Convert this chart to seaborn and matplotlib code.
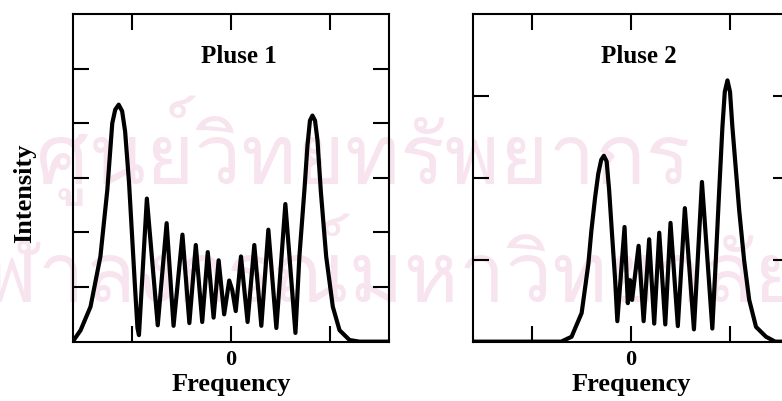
import matplotlib
matplotlib.use("Agg")
import matplotlib.pyplot as plt
import seaborn as sns
from matplotlib import font_manager

# pulse 1 spectrum
freq1 = [-1.60, -1.52, -1.42, -1.32, -1.25, -1.20, -1.17, -1.135, -1.10, -1.07, -1.03,
         -1.00, -0.97, -0.945, -0.93,
         -0.85, -0.74, -0.65, -0.58, -0.49, -0.42, -0.355, -0.29, -0.234, -0.175,
         -0.124, -0.068, -0.017, 0.013, 0.049, 0.102, 0.169, 0.237, 0.308, 0.379,
         0.46, 0.551, 0.653, 0.693, 0.744, 0.775, 0.80, 0.825, 0.851, 0.876, 0.91,
         0.964, 1.031, 1.099, 1.20, 1.30, 1.60]
inten1 = [0.0, 0.21, 0.64, 1.56, 2.78, 4.00, 4.25, 4.34, 4.22, 3.85, 2.90,
          1.95, 1.00, 0.25, 0.12,
          2.62, 0.30, 2.17, 0.29, 1.96, 0.34, 1.77, 0.36, 1.64, 0.44,
          1.49, 0.50, 1.12, 0.95, 0.56, 1.56, 0.36, 1.77, 0.29, 2.05,
          0.25, 2.52, 0.16, 1.56, 2.78, 3.60, 4.05, 4.14, 4.05, 3.69, 2.75,
          1.56, 0.64, 0.21, 0.03, 0.0, 0.0]

# pulse 2 spectrum
freq2 = [-1.62, -0.705, -0.60, -0.498, -0.43, -0.40, -0.362, -0.33, -0.30, -0.273,
         -0.245, -0.22, -0.19, -0.159,
         -0.137, -0.064, -0.031, -0.008, 0.012, 0.078, 0.129, 0.185, 0.236, 0.287,
         0.348, 0.401, 0.475, 0.546, 0.638, 0.719, 0.824, 0.859, 0.892, 0.926,
         0.95, 0.977, 1.003, 1.027, 1.096, 1.146, 1.197, 1.266, 1.367, 1.46, 1.62]
inten2 = [0.0, 0.0, 0.06, 0.35, 0.95, 1.35, 1.76, 2.05, 2.22, 2.27,
          2.20, 1.85, 1.30, 0.75,
          0.25, 1.40, 0.47, 0.75, 0.51, 1.17, 0.25, 1.25, 0.22, 1.33,
          0.21, 1.45, 0.19, 1.63, 0.15, 1.95, 0.16, 0.99, 1.81, 2.62,
          3.05, 3.19, 3.05, 2.62, 1.60, 0.99, 0.51, 0.18, 0.06, 0.0, 0.0]

titles = ["Pluse 1", "Pluse 2"]
xticks = [-1, 0, 1]
xticklabels = ["", "0", ""]
yticks1 = [1, 2, 3, 4, 5]
yticks2 = [1, 2, 3]
watermark = ["ศูนย์วิทยทรัพยากร", "จุฬาลงกรณ์มหาวิทยาลัย"]

sns.set_theme(style="ticks")
plt.rcParams["font.family"] = ["Liberation Serif", "DejaVu Serif"]
plt.rcParams["font.weight"] = "bold"
plt.rcParams["text.color"] = "black"
plt.rcParams["axes.labelcolor"] = "black"
plt.rcParams["xtick.color"] = "black"
plt.rcParams["ytick.color"] = "black"

# look for a font that can draw Thai for the watermark
thai_font = None
try:
    from fontTools.ttLib import TTFont
    for f in font_manager.fontManager.ttflist:
        try:
            cmap = TTFont(f.fname, fontNumber=0, lazy=True).getBestCmap()
        except Exception:
            continue
        if cmap and 0x0E28 in cmap and 0x0E2C in cmap:
            thai_font = f.name
            break
except Exception:
    thai_font = None

fig = plt.figure(figsize=(7.82, 4.01), dpi=100)
ax1 = fig.add_axes([0.093, 0.148, 0.4045, 0.817])
ax2 = fig.add_axes([0.6045, 0.148, 0.4045, 0.817])

if thai_font:
    fig.text(0.465, 0.625, watermark[0], family=thai_font, fontsize=60, color="#f7e4ee",
             ha="center", va="center", zorder=-1, fontweight="normal")
    fig.text(0.47, 0.33, watermark[1], family=thai_font, fontsize=60, color="#f7e4ee",
             ha="center", va="center", zorder=-1, fontweight="normal")

panels = [(ax1, freq1, inten1, yticks1, 6, titles[0]),
          (ax2, freq2, inten2, yticks2, 4, titles[1])]
for ax, fx, iy, yt, ytop, title in panels:
    ax.patch.set_alpha(0)
    sns.lineplot(x=fx, y=iy, ax=ax, color="black", lw=3.0, sort=False, estimator=None)
    ax.set_xlim(-1.6, 1.6)
    ax.set_ylim(0, ytop)
    ax.set_xticks(xticks)
    ax.set_xticklabels(xticklabels)
    ax.set_yticks(yt)
    ax.set_yticklabels([])
    ax.tick_params(direction="in", length=11.5, width=1.5, top=True, right=True,
                   labelsize=16, pad=6)
    for s in ax.spines.values():
        s.set_linewidth(1.5)
        s.set_color("black")
    ax.text(0.524, 0.87, title, transform=ax.transAxes, ha="center", va="center",
            fontsize=18, fontweight="bold")
    ax.set_xlabel("Frequency", fontsize=19, fontweight="bold", labelpad=2)
    ax.set_ylabel("")

fig.text(0.032, 0.518, "Intensity", rotation=90, ha="center", va="center",
         fontsize=19, fontweight="bold")

fig.savefig("out.png", dpi=100)
